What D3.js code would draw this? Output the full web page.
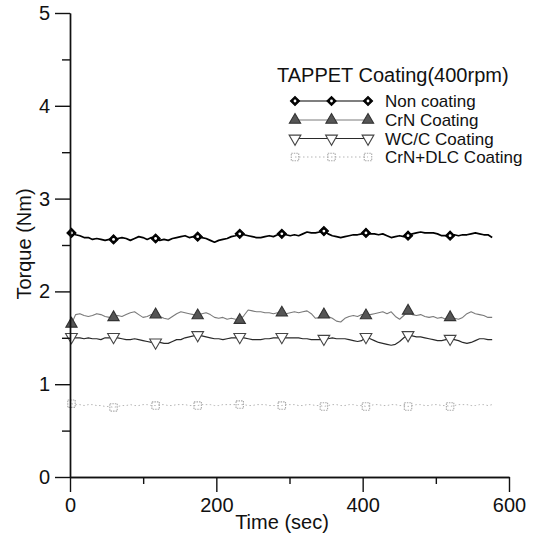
<!DOCTYPE html>
<html>
<head>
<meta charset="utf-8">
<script src="https://cdn.jsdelivr.net/npm/d3@7/dist/d3.min.js"></script>
<style>
body { margin: 0; background: #fff; }
svg text { font-family: "Liberation Sans", Arial, sans-serif; fill: #111; }
</style>
</head>
<body>
<div id="chart"></div>
<script>
// sample times (sec)
var time = [
  2, 7.75, 13.5, 19.25, 25, 30.75, 36.5, 42.25, 48, 53.75,
  59.5, 65.25, 71, 76.75, 82.5, 88.25, 94, 99.75, 105.5, 111.25,
  117, 122.75, 128.5, 134.25, 140, 145.75, 151.5, 157.25, 163, 168.75,
  174.5, 180.25, 186, 191.75, 197.5, 203.25, 209, 214.75, 220.5, 226.25,
  232, 237.75, 243.5, 249.25, 255, 260.75, 266.5, 272.25, 278, 283.75,
  289.5, 295.25, 301, 306.75, 312.5, 318.25, 324, 329.75, 335.5, 341.25,
  347, 352.75, 358.5, 364.25, 370, 375.75, 381.5, 387.25, 393, 398.75,
  404.5, 410.25, 416, 421.75, 427.5, 433.25, 439, 444.75, 450.5, 456.25,
  462, 467.75, 473.5, 479.25, 485, 490.75, 496.5, 502.25, 508, 513.75,
  519.5, 525.25, 531, 536.75, 542.5, 548.25, 554, 559.75, 565.5, 571.25,
  577]

var nonCoating = [
  2.63, 2.61, 2.60, 2.58, 2.58, 2.56, 2.57, 2.56, 2.55, 2.56,
  2.56, 2.57, 2.58, 2.57, 2.55, 2.57, 2.59, 2.58, 2.56, 2.58,
  2.57, 2.55, 2.56, 2.55, 2.57, 2.58, 2.59, 2.60, 2.58, 2.59,
  2.59, 2.58, 2.57, 2.55, 2.53, 2.55, 2.56, 2.57, 2.59, 2.60,
  2.62, 2.61, 2.60, 2.59, 2.58, 2.58, 2.59, 2.60, 2.59, 2.61,
  2.62, 2.61, 2.60, 2.61, 2.60, 2.62, 2.64, 2.63, 2.63, 2.64,
  2.65, 2.62, 2.60, 2.59, 2.58, 2.59, 2.60, 2.61, 2.61, 2.62,
  2.63, 2.62, 2.62, 2.61, 2.62, 2.60, 2.58, 2.59, 2.60, 2.59,
  2.60, 2.62, 2.63, 2.64, 2.63, 2.63, 2.63, 2.62, 2.60, 2.60,
  2.60, 2.61, 2.60, 2.61, 2.61, 2.62, 2.63, 2.62, 2.61, 2.61,
  2.58]

var crnCoating = [
  1.65, 1.75, 1.76, 1.74, 1.73, 1.74, 1.76, 1.75, 1.73, 1.72,
  1.72, 1.74, 1.73, 1.75, 1.77, 1.78, 1.75, 1.72, 1.73, 1.75,
  1.75, 1.73, 1.71, 1.70, 1.73, 1.76, 1.78, 1.77, 1.76, 1.75,
  1.74, 1.76, 1.77, 1.75, 1.72, 1.71, 1.72, 1.70, 1.71, 1.70,
  1.69, 1.74, 1.80, 1.79, 1.78, 1.78, 1.77, 1.77, 1.76, 1.77,
  1.77, 1.76, 1.77, 1.78, 1.77, 1.78, 1.79, 1.76, 1.71, 1.72,
  1.75, 1.73, 1.71, 1.68, 1.67, 1.71, 1.73, 1.74, 1.73, 1.75,
  1.74, 1.75, 1.76, 1.77, 1.78, 1.76, 1.78, 1.73, 1.70, 1.74,
  1.79, 1.75, 1.74, 1.75, 1.73, 1.72, 1.73, 1.71, 1.72, 1.70,
  1.72, 1.71, 1.70, 1.72, 1.76, 1.78, 1.76, 1.75, 1.74, 1.72,
  1.72]

var wccCoating = [
  1.51, 1.50, 1.50, 1.49, 1.50, 1.49, 1.49, 1.48, 1.50, 1.50,
  1.51, 1.50, 1.49, 1.48, 1.48, 1.49, 1.48, 1.47, 1.46, 1.45,
  1.45, 1.45, 1.44, 1.44, 1.46, 1.48, 1.48, 1.50, 1.51, 1.52,
  1.53, 1.52, 1.51, 1.50, 1.49, 1.49, 1.48, 1.49, 1.50, 1.50,
  1.51, 1.50, 1.49, 1.48, 1.48, 1.48, 1.49, 1.49, 1.50, 1.50,
  1.51, 1.50, 1.50, 1.50, 1.50, 1.49, 1.49, 1.48, 1.48, 1.48,
  1.49, 1.49, 1.50, 1.49, 1.49, 1.49, 1.48, 1.47, 1.46, 1.47,
  1.51, 1.49, 1.47, 1.45, 1.44, 1.43, 1.42, 1.43, 1.46, 1.50,
  1.53, 1.52, 1.51, 1.51, 1.50, 1.49, 1.48, 1.47, 1.47, 1.48,
  1.49, 1.48, 1.47, 1.45, 1.44, 1.45, 1.47, 1.49, 1.49, 1.48,
  1.48]

var dlcCoating = [
  0.79, 0.78, 0.78, 0.77, 0.78, 0.78, 0.77, 0.77, 0.76, 0.76,
  0.75, 0.76, 0.77, 0.77, 0.78, 0.77, 0.77, 0.78, 0.78, 0.77,
  0.77, 0.78, 0.78, 0.77, 0.77, 0.78, 0.78, 0.78, 0.77, 0.77,
  0.77, 0.78, 0.78, 0.78, 0.77, 0.77, 0.78, 0.78, 0.78, 0.78,
  0.78, 0.78, 0.77, 0.77, 0.78, 0.78, 0.78, 0.77, 0.77, 0.77,
  0.77, 0.78, 0.78, 0.78, 0.77, 0.77, 0.78, 0.78, 0.77, 0.77,
  0.76, 0.77, 0.78, 0.78, 0.77, 0.77, 0.78, 0.78, 0.77, 0.77,
  0.76, 0.77, 0.78, 0.78, 0.77, 0.77, 0.78, 0.78, 0.77, 0.77,
  0.76, 0.77, 0.78, 0.78, 0.77, 0.77, 0.78, 0.78, 0.77, 0.77,
  0.76, 0.77, 0.78, 0.78, 0.78, 0.77, 0.77, 0.78, 0.78, 0.77,
  0.78]

var seriesNames = ['Non coating', 'CrN Coating', 'WC/C Coating', 'CrN+DLC Coating']
var legendTitle = 'TAPPET Coating(400rpm)'
var xTicks = [0, 200, 400, 600]
var xMinor = [100, 300, 500]
var yTicks = [0, 1, 2, 3, 4, 5]
var yMinor = [0.5, 1.5, 2.5, 3.5, 4.5]

var width = 546, height = 537
var margin = {left: 70, top: 13}
var plotW = 439, plotH = 464

var svg = d3.select('#chart').append('svg').attr('width', width).attr('height', height)
var g = svg.append('g').attr('transform', 'translate(' + margin.left + ',' + margin.top + ')')

var x = d3.scaleLinear().domain([0, 600]).range([0, plotW])
var y = d3.scaleLinear().domain([0, 5]).range([plotH, 0])

// series styles (rot = marker rotation)
var styles = [
  {data: nonCoating, stroke: '#000', width: 1.7, dash: null, sym: d3.symbolSquare, size: 42, fill: '#000', mstroke: '#000', dot: true, rot: 45},
  {data: crnCoating, stroke: '#7a7a7a', width: 1.1, dash: null, sym: d3.symbolTriangle, size: 55, fill: '#555', mstroke: '#333', dot: false, rot: 0},
  {data: wccCoating, stroke: '#2a2a2a', width: 1.2, dash: null, sym: d3.symbolTriangle, size: 60, fill: '#fff', mstroke: '#444', dot: false, rot: 180},
  {data: dlcCoating, stroke: '#b5b5b5', width: 1, dash: '1.5,2.5', sym: d3.symbolSquare, size: 55, fill: 'none', mstroke: '#aaa', dot: false, mdash: '1.5,1', rot: 0}
]

var line = d3.line()
  .x(function(d, i) { return x(time[i]) })
  .y(function(d) { return y(d) })

function drawMarker(sel, s) {
  sel.append('path')
    .attr('d', d3.symbol().type(s.sym).size(s.size))
    .attr('transform', 'rotate(' + s.rot + ')')
    .attr('fill', s.fill)
    .attr('stroke', s.mstroke)
    .attr('stroke-width', 1.1)
    .attr('stroke-dasharray', s.mdash || null)
  if (s.dot) sel.append('circle').attr('r', 1.4).attr('fill', '#fff')
}

// draw back to front so the black line sits on top
styles.slice().reverse().forEach(function(s) {
  g.append('path')
    .datum(s.data)
    .attr('d', line)
    .attr('fill', 'none')
    .attr('stroke', s.stroke)
    .attr('stroke-width', s.width)
    .attr('stroke-dasharray', s.dash)
    .attr('stroke-linejoin', 'round')

  var marks = s.data.map(function(v, i) { return [time[i], v, i] }).filter(function(d) { return d[2] % 10 === 0 && d[2] < 100 })
  g.selectAll(null).data(marks).enter().append('g')
    .attr('transform', function(d) { return 'translate(' + x(d[0]) + ',' + y(d[1]) + ')' })
    .each(function() { drawMarker(d3.select(this), s) })
})

// axes
var axisColor = '#111'
g.append('g').call(d3.axisLeft(y).tickValues(yTicks).tickFormat(d3.format('d')).tickSize(15).tickPadding(5).tickSizeOuter(0))
g.append('g').call(d3.axisLeft(y).tickValues(yMinor).tickSize(8).tickFormat('').tickSizeOuter(0))
g.append('g').attr('transform', 'translate(0,' + plotH + ')')
  .call(d3.axisBottom(x).tickValues(xTicks).tickFormat(d3.format('d')).tickSize(15).tickPadding(6).tickSizeOuter(0))
g.append('g').attr('transform', 'translate(0,' + plotH + ')')
  .call(d3.axisBottom(x).tickValues(xMinor).tickSize(7).tickFormat('').tickSizeOuter(0))

g.selectAll('.domain, .tick line').attr('stroke', axisColor).attr('stroke-width', 1.4)
g.selectAll('.tick text').attr('font-size', 20).attr('font-family', '"Liberation Sans", Arial, sans-serif').attr('fill', '#111')

// axis titles
svg.append('text')
  .attr('x', 282).attr('y', 529)
  .attr('text-anchor', 'middle')
  .attr('font-size', 20)
  .text('Time (sec)')

svg.append('text')
  .attr('transform', 'translate(31,244) rotate(-90)')
  .attr('text-anchor', 'middle')
  .attr('font-size', 20)
  .text('Torque (Nm)')

// legend
var legend = svg.append('g')
legend.append('text').attr('x', 277).attr('y', 82).attr('font-size', 20).text(legendTitle)

var legX = [295, 331.5, 368]
var rowY = [101, 120, 138.5, 157]
styles.forEach(function(s, k) {
  var row = legend.append('g').attr('transform', 'translate(0,' + rowY[k] + ')')
  row.append('line')
    .attr('x1', legX[0]).attr('x2', legX[2]).attr('y1', 0).attr('y2', 0)
    .attr('stroke', s.stroke).attr('stroke-width', k === 0 ? 1.2 : 1)
    .attr('stroke-dasharray', s.dash)
  legX.forEach(function(px) {
    drawMarker(row.append('g').attr('transform', 'translate(' + px + ',0)'), s)
  })
  row.append('text').attr('x', 385).attr('y', 6).attr('font-size', 17).text(seriesNames[k])
})
</script>
</body>
</html>
